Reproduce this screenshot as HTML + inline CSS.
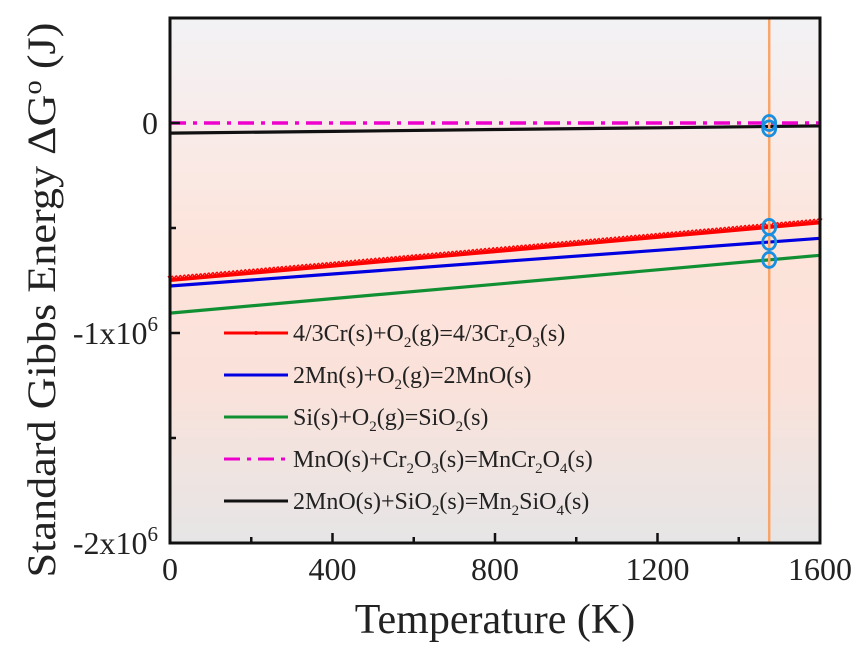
<!DOCTYPE html>
<html><head><meta charset="utf-8">
<style>
html,body{margin:0;padding:0;background:#fff;}
svg{display:block;font-family:"Liberation Serif",serif;}
</style></head>
<body>
<svg id="chart" width="866" height="659" viewBox="0 0 866 659" xmlns="http://www.w3.org/2000/svg">
<defs>
<linearGradient id="bg" x1="0" y1="0" x2="0" y2="1">
<stop offset="0" stop-color="#f2f2f5"/>
<stop offset="0.2" stop-color="#f8ecea"/>
<stop offset="0.45" stop-color="#fde3d9"/>
<stop offset="0.7" stop-color="#fae2da"/>
<stop offset="1" stop-color="#e6e5e6"/>
</linearGradient>
</defs>
<rect x="170" y="18" width="650" height="525" fill="url(#bg)"/>
<g id="marks"></g>
<g id="axes"></g>
<rect x="170" y="18" width="650" height="525" fill="none" stroke="#111" stroke-width="3"/>
<text transform="translate(55,300) rotate(-90)" text-anchor="middle" font-size="40" fill="#222" textLength="555" lengthAdjust="spacingAndGlyphs">Standard Gibbs Energy ΔG<tspan dy="-14" font-size="26">o</tspan><tspan dy="14"> (J)</tspan></text>
<text x="495" y="633" text-anchor="middle" font-size="42" fill="#222">Temperature (K)</text>
<g id="legend" font-size="24" fill="#222">
<line x1="224" y1="333" x2="288" y2="333" stroke="#f00" stroke-width="3"/>
<circle cx="256" cy="333" r="2" fill="#f00"/>
<text x="293" y="341">4/3Cr(s)+O<tspan dy="6" font-size="15">2</tspan><tspan dy="-6">(g)=4/3Cr</tspan><tspan dy="6" font-size="15">2</tspan><tspan dy="-6">O</tspan><tspan dy="6" font-size="15">3</tspan><tspan dy="-6">(s)</tspan></text>
<line x1="224" y1="375" x2="288" y2="375" stroke="#0000e0" stroke-width="3"/>
<text x="293" y="383">2Mn(s)+O<tspan dy="6" font-size="15">2</tspan><tspan dy="-6">(g)=2MnO(s)</tspan></text>
<line x1="224" y1="417" x2="288" y2="417" stroke="#119033" stroke-width="3"/>
<text x="293" y="425">Si(s)+O<tspan dy="6" font-size="15">2</tspan><tspan dy="-6">(g)=SiO</tspan><tspan dy="6" font-size="15">2</tspan><tspan dy="-6">(s)</tspan></text>
<line x1="224" y1="459" x2="288" y2="459" stroke="#ee00cc" stroke-width="3" stroke-dasharray="16,7,4,7"/>
<text x="293" y="467">MnO(s)+Cr<tspan dy="6" font-size="15">2</tspan><tspan dy="-6">O</tspan><tspan dy="6" font-size="15">3</tspan><tspan dy="-6">(s)=MnCr</tspan><tspan dy="6" font-size="15">2</tspan><tspan dy="-6">O</tspan><tspan dy="6" font-size="15">4</tspan><tspan dy="-6">(s)</tspan></text>
<line x1="224" y1="501" x2="288" y2="501" stroke="#111" stroke-width="3"/>
<text x="293" y="509">2MnO(s)+SiO<tspan dy="6" font-size="15">2</tspan><tspan dy="-6">(s)=Mn</tspan><tspan dy="6" font-size="15">2</tspan><tspan dy="-6">SiO</tspan><tspan dy="6" font-size="15">4</tspan><tspan dy="-6">(s)</tspan></text>
</g>
</svg>
<script>
const temps = [0, 400, 800, 1200, 1600];
const crValues = [-0.748e6, -0.680e6, -0.611e6, -0.543e6, -0.474e6];
const mnValues = [-0.776e6, -0.719e6, -0.662e6, -0.606e6, -0.549e6];
const siValues = [-0.905e6, -0.836e6, -0.768e6, -0.699e6, -0.630e6];
const mnCrValues = [0, 0, 0, 0, 0];
const mn2sio4Values = [-0.048e6, -0.040e6, -0.031e6, -0.023e6, -0.014e6];
const markerTemp = 1475;
const markerValues = [-0.495e6, -0.567e6, -0.652e6, 0, -0.026e6];
const xTicks = [0, 400, 800, 1200, 1600];
const xMinorTicks = [200, 600, 1000, 1400];
const yTicks = [0, -1e6, -2e6];
const yTickLabels = ["0", "-1x10", "-2x10"];
const yMinorTicks = [-0.5e6, -1.5e6];

const NS = "http://www.w3.org/2000/svg";
const X0 = 170, X1 = 820, Y0 = 543, Y1 = 18;
const xMin = 0, xMax = 1600, yMin = -2e6, yMax = 0.5e6;
function sx(t){ return X0 + (t - xMin) / (xMax - xMin) * (X1 - X0); }
function sy(v){ return Y0 - (v - yMin) / (yMax - yMin) * (Y0 - Y1); }
function mk(tag, attrs, parent){ const e = document.createElementNS(NS, tag); for (const k in attrs) e.setAttribute(k, attrs[k]); parent.appendChild(e); return e; }
const marks = document.getElementById("marks");
const axes = document.getElementById("axes");

function drawSeries(vals, color, name, extra){
  const pts = temps.map((t,i)=> sx(t).toFixed(1)+","+sy(vals[i]).toFixed(1)).join(" ");
  const a = Object.assign({points: pts, fill: "none", stroke: color, "stroke-width": 3.2}, extra||{});
  const p = mk("polyline", a, marks);
  
  
  return p;
}
drawSeries(siValues, "#119033", "series-si");
drawSeries(mnValues, "#0000e0", "series-mn");
drawSeries(crValues, "#f00", "series-cr", {"stroke-width": 3.8});
for (let t = 0; t <= 1600; t += 10) {
  let i = Math.min(Math.floor(t/400), 3);
  const f = (t - temps[i]) / (temps[i+1] - temps[i]);
  const v = crValues[i] + f * (crValues[i+1] - crValues[i]);
  const c = mk("path", {d: "M"+(sx(t)-2)+","+(sy(v)-4)+" l2,3 l2,-3", fill:"none", stroke:"#f00", "stroke-width":1.4}, marks);
  
  
}
drawSeries(mn2sio4Values, "#111", "series-mn2sio4");
drawSeries(mnCrValues, "#ee00cc", "series-mncr2o4", {"stroke-dasharray": "16,7,4,7", "stroke-width": 3.5});

const vl = mk("line", {x1: sx(markerTemp), x2: sx(markerTemp), y1: Y1, y2: Y0, stroke: "#f8a56a", "stroke-width": 2.5}, marks);


markerValues.forEach((v)=>{
  const c = mk("ellipse", {cx: sx(markerTemp), cy: sy(v), rx: 6.5, ry: 7.5, fill: "none", stroke: "#1a8fe0", "stroke-width": 2.8}, marks);
  
  
});

xTicks.forEach(t=>{
  const l = mk("line", {x1: sx(t), x2: sx(t), y1: Y0, y2: Y0-10, stroke: "#111", "stroke-width": 2.5}, axes);
  
  
  const tx = mk("text", {x: sx(t), y: 580, "text-anchor": "middle", "font-size": 32, fill: "#222"}, axes);
  tx.textContent = String(t);
  
  
});
xMinorTicks.forEach(t=>{
  const l = mk("line", {x1: sx(t), x2: sx(t), y1: Y0, y2: Y0-6, stroke: "#111", "stroke-width": 2.5}, axes);
  
  
});
yTicks.forEach((v,i)=>{
  const l = mk("line", {x1: X0, x2: X0+10, y1: sy(v), y2: sy(v), stroke: "#111", "stroke-width": 2.5}, axes);
  
  
  const tx = mk("text", {x: 158, y: sy(v)+11, "text-anchor": "end", "font-size": 32, fill: "#222"}, axes);
  
  
  tx.textContent = yTickLabels[i];
  if (v !== 0) {
    const sp = document.createElementNS(NS, "tspan");
    sp.setAttribute("dy", "-13"); sp.setAttribute("font-size", "21");
    sp.textContent = "6";
    tx.appendChild(sp);
  }
});
yMinorTicks.forEach(v=>{
  const l = mk("line", {x1: X0, x2: X0+6, y1: sy(v), y2: sy(v), stroke: "#111", "stroke-width": 2.5}, axes);
  
  
});
</script>
</body></html>
